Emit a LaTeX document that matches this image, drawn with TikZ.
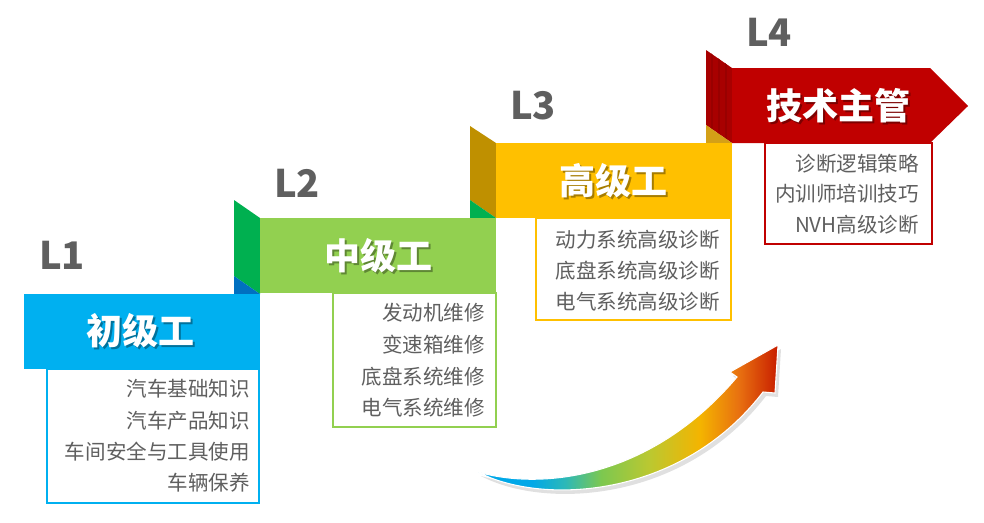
\documentclass[tikz,border=0pt]{standalone}
\usepackage{fontspec}
\setmainfont{Noto Sans CJK SC}
\definecolor{lvOne}{HTML}{00B0F0}
\definecolor{lvOneD}{HTML}{0070C0}
\definecolor{lvTwo}{HTML}{92D050}
\definecolor{lvTwoD}{HTML}{00B050}
\definecolor{lvThree}{HTML}{FFC000}
\definecolor{lvThreeD}{HTML}{BF9000}
\definecolor{lvThreeT}{HTML}{D4A017}
\definecolor{lvFour}{HTML}{C00000}
\definecolor{lvFourD}{HTML}{A80000}
\definecolor{lvFourS}{HTML}{990000}
\definecolor{txtgray}{HTML}{5F5F5F}
\definecolor{rbA}{HTML}{00A8E8}
\definecolor{rbB}{HTML}{2CB8B8}
\definecolor{rbC}{HTML}{7CC850}
\definecolor{rbD}{HTML}{BCC830}
\definecolor{rbE}{HTML}{F4B400}
\definecolor{rbF}{HTML}{E87010}
\definecolor{rbG}{HTML}{C81E00}
\pgfdeclarehorizontalshading{rainbow}{100bp}{color(0bp)=(rbA); color(25bp)=(rbA); color(34bp)=(rbA); color(39.5bp)=(rbB); color(45.5bp)=(rbC); color(53.7bp)=(rbD); color(62bp)=(rbE); color(68.5bp)=(rbF); color(75bp)=(rbG); color(100bp)=(rbG)}
\tikzset{
  hdr/.style={font=\fontsize{27}{30}\selectfont\bfseries, text=white, inner sep=0},
  hdrshadow/.style={font=\fontsize{27}{30}\selectfont\bfseries, text=black, opacity=0.35, inner sep=0},
  item/.style={font=\fontsize{15.4}{18}\selectfont, text=txtgray, anchor=east, inner sep=0},
  lvl/.style={font=\fontsize{28.5}{30}\selectfont\bfseries, text=txtgray, inner sep=0},
  boxline/.style={line width=0.9pt, fill=white}
}
\begin{document}
\begin{tikzpicture}[x=0.75pt,y=-0.75pt]
\useasboundingbox (0,0) rectangle (984,522);
% ---------- level labels
\node[lvl] (l1) at (62,255) {L1};
\node[lvl] (l2) at (297,183) {L2};
\node[lvl] (l3) at (533,106) {L3};
\node[lvl] (l4) at (769,32) {L4};
% ---------- folds
\fill[lvTwoD] (234,200) -- (260,218) -- (260,294) -- (234,276) -- cycle;
\fill[lvOneD] (234,276) -- (260,294) -- (234,294) -- cycle;
\fill[lvThreeD] (470,126) -- (496,143) -- (496,218) -- (470,200) -- cycle;
\fill[lvTwoD] (470,200) -- (496,218) -- (470,218) -- cycle;
\fill[lvFourD] (706,50) -- (732,68) -- (732,143) -- (706,125) -- cycle;
\begin{scope}
  \clip (706,50) -- (732,68) -- (732,143) -- (706,125) -- cycle;
  \foreach \sx in {711,718,725} \fill[lvFourS] (\sx,40) rectangle (\sx+1.5,150);
\end{scope}
\fill[lvThreeT] (706,125) -- (732,143) -- (706,143) -- cycle;
% ---------- content boxes
\draw[boxline, draw=lvOne] (47,369) rectangle (259,503);
\draw[boxline, draw=lvTwo] (333,293) rectangle (496,427);
\draw[boxline, draw=lvThree] (536,218) rectangle (731,320);
\draw[boxline, draw=lvFour] (765,143) rectangle (932,244);
% ---------- headers
\fill[lvOne] (24,294) rectangle (260,369);
\fill[lvTwo] (260,218) rectangle (496,293);
\fill[lvThree] (496,143) rectangle (732,218);
\fill[lvFour] (732,68) -- (930,68) -- (968,106) -- (930,143) -- (732,143) -- cycle;
% ---------- header texts
\node[hdrshadow] (h1s) at (142,333) {初级工};
\node[hdr] (h1) at (140,331) {初级工};
\node[hdrshadow] (h2s) at (380,258) {中级工};
\node[hdr] (h2) at (378,256) {中级工};
\node[hdrshadow] (h3s) at (615,183) {高级工};
\node[hdr] (h3) at (613,181) {高级工};
\node[hdrshadow] (h4s) at (840,108) {技术主管};
\node[hdr] (h4) at (838,106) {技术主管};
% ---------- items
\node[item] (a1) at (250,389) {汽车基础知识};
\node[item] (a2) at (250,421) {汽车产品知识};
\node[item] (a3) at (250,452) {车间安全与工具使用};
\node[item] (a4) at (250,483) {车辆保养};
\node[item] (b1) at (485,313) {发动机维修};
\node[item] (b2) at (485,345) {变速箱维修};
\node[item] (b3) at (485,377) {底盘系统维修};
\node[item] (b4) at (485,408) {电气系统维修};
\node[item] (c1) at (720,240) {动力系统高级诊断};
\node[item] (c2) at (720,271) {底盘系统高级诊断};
\node[item] (c3) at (720,302) {电气系统高级诊断};
\node[item] (d1) at (919,164) {诊断逻辑策略};
\node[item] (d2) at (919,194) {内训师培训技巧};
\node[item] (d3) at (919,225) {NVH高级诊断};
% ---------- curved arrow
\fill[black, opacity=0.12] ([shift={(3,4)}]478,472) .. controls ([shift={(3,4)}]540,490) and ([shift={(3,4)}]650,480) .. ([shift={(3,4)}]737,377) -- ([shift={(3,4)}]730,372) -- ([shift={(3,4)}]778,345) -- ([shift={(3,4)}]775,393) -- ([shift={(3,4)}]763,392) .. controls ([shift={(3,4)}]680,500) and ([shift={(3,4)}]540,505) .. ([shift={(3,4)}]478,472) -- cycle;
\shadedraw[shading=rainbow, draw=white, line width=0.8pt] (478,472) .. controls (540,490) and (650,480) .. (737,377) -- (730,372) -- (778,345) -- (775,393) -- (763,392) .. controls (680,500) and (540,505) .. (478,472) -- cycle;
\end{tikzpicture}
\end{document}
